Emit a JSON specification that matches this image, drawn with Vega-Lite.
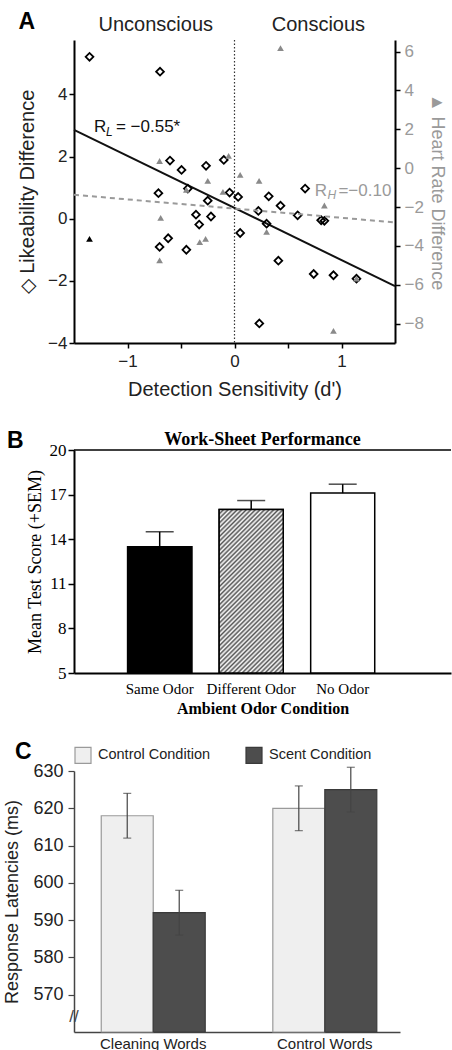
{
"$schema": "https://vega.github.io/schema/vega-lite/v6.json",
"background": "white",
"padding": {"left": 3, "top": 10, "right": 0, "bottom": 0},
"config": {"view": {"stroke": null}, "font": "Liberation Sans", "axis": {"grid": false, "titleFontWeight": "normal", "labelColor": "#222", "titleColor": "#222"}},
"datasets": {
"one": [{}],
"diamonds": [
{"d": -1.355, "L": 5.21}, {"d": -0.696, "L": 4.73}, {"d": -0.603, "L": 1.87}, {"d": -0.495, "L": 1.57},
{"d": -0.266, "L": 1.70}, {"d": -0.10, "L": 1.89}, {"d": -0.711, "L": 0.82}, {"d": -0.436, "L": 0.97},
{"d": -0.25, "L": 0.58}, {"d": -0.046, "L": 0.84}, {"d": 0.034, "L": 0.70}, {"d": 0.32, "L": 0.72},
{"d": 0.43, "L": 0.42}, {"d": 0.66, "L": 0.97}, {"d": 0.223, "L": 0.25}, {"d": 0.59, "L": 0.11},
{"d": 0.81, "L": -0.05}, {"d": 0.84, "L": -0.07}, {"d": -0.36, "L": 0.13}, {"d": -0.22, "L": 0.07},
{"d": -0.33, "L": -0.19}, {"d": -0.70, "L": -0.91}, {"d": -0.62, "L": -0.63}, {"d": -0.45, "L": -1.0},
{"d": 0.053, "L": -0.46}, {"d": 0.30, "L": -0.16}, {"d": 0.41, "L": -1.35}, {"d": 0.74, "L": -1.78},
{"d": 0.925, "L": -1.82}, {"d": 1.14, "L": -1.93}, {"d": 0.232, "L": -3.37}
],
"triangles": [
{"d": 0.43, "H": 6.18, "kind": "gray"}, {"d": -0.70, "H": 0.37, "kind": "gray"}, {"d": -0.25, "H": -0.65, "kind": "gray"},
{"d": -0.055, "H": 0.63, "kind": "gray"}, {"d": 0.053, "H": -0.34, "kind": "gray"}, {"d": 0.23, "H": -0.65, "kind": "gray"},
{"d": -0.45, "H": -1.11, "kind": "gray"}, {"d": -0.108, "H": -1.22, "kind": "gray"}, {"d": -0.69, "H": -2.56, "kind": "gray"},
{"d": 0.84, "H": -1.92, "kind": "gray"}, {"d": 1.14, "H": -5.68, "kind": "gray"}, {"d": -0.70, "H": -4.75, "kind": "gray"},
{"d": -0.325, "H": -3.81, "kind": "gray"}, {"d": -0.27, "H": -3.64, "kind": "gray"}, {"d": 0.30, "H": -3.28, "kind": "gray"},
{"d": 0.925, "H": -8.38, "kind": "gray"}, {"d": -1.355, "H": -3.64, "kind": "black"}
],
"lineL": [{"d": -1.5, "L": 2.86}, {"d": 1.5, "L": -2.17}],
"lineH": [{"d": -1.5, "H": -1.37}, {"d": 1.5, "H": -2.79}],
"odor": [
{"cond": "Same Odor", "score": 13.5, "upper": 14.5},
{"cond": "Different Odor", "score": 16.0, "upper": 16.6},
{"cond": "No Odor", "score": 17.1, "upper": 17.7}
],
"latency": [
{"words": "Cleaning Words", "condition": "Control Condition", "rt": 618, "lo": 612, "hi": 624},
{"words": "Cleaning Words", "condition": "Scent Condition", "rt": 592, "lo": 586, "hi": 598},
{"words": "Control Words", "condition": "Control Condition", "rt": 620, "lo": 614, "hi": 626},
{"words": "Control Words", "condition": "Scent Condition", "rt": 625, "lo": 619, "hi": 631}
]
},
"spacing": 25,
"resolve": {"scale": {"fill": "independent", "stroke": "independent", "color": "independent"}, "legend": {"fill": "independent", "stroke": "independent", "color": "independent"}},
"vconcat": [
{
"bounds": "flush",
"spacing": 107,
"vconcat": [
{
"width": 321, "height": 303,
"resolve": {"scale": {"y": "independent"}},
"layer": [
{
"layer": [
{"data": {"name": "one"}, "mark": {"type": "rule", "color": "#333", "strokeWidth": 1.2, "strokeDash": [1.5, 2]},
 "encoding": {"x": {"datum": 0, "type": "quantitative", "scale": {"domain": [-1.5, 1.5], "nice": false, "zero": false}}}},
{"data": {"name": "lineL"}, "mark": {"type": "line", "color": "#111", "strokeWidth": 2},
 "encoding": {
  "x": {"field": "d", "type": "quantitative", "scale": {"domain": [-1.5, 1.5], "nice": false, "zero": false}},
  "y": {"field": "L", "type": "quantitative", "scale": {"domain": [-4, 5.75], "nice": false, "zero": false}}}},
{"data": {"name": "diamonds"}, "mark": {"type": "point", "shape": "diamond", "filled": false, "stroke": "#000", "strokeWidth": 1.8, "size": 60, "opacity": 1},
 "encoding": {
  "x": {"field": "d", "type": "quantitative", "scale": {"domain": [-1.5, 1.5], "nice": false, "zero": false},
   "axis": {"values": [-1, -0.5, 0, 0.5, 1], "format": ".0f", "labelExpr": "datum.value % 1 === 0 ? datum.label : ''", "title": "Detection Sensitivity (d')", "titleFontSize": 20, "labelFontSize": 17, "domainColor": "#000", "domainWidth": 2, "tickColor": "#000", "tickWidth": 1.5, "tickSize": 5, "labelPadding": 5, "titlePadding": 10}},
  "y": {"field": "L", "type": "quantitative", "scale": {"domain": [-4, 5.75], "nice": false, "zero": false},
   "axis": {"orient": "left", "values": [-4, -2, 0, 2, 4], "title": "◇ Likeability Difference", "titleFontSize": 20, "labelFontSize": 17, "domainColor": "#000", "domainWidth": 2, "tickColor": "#000", "tickWidth": 1.5, "tickSize": 5, "labelPadding": 2, "titlePadding": 10}}}},
{"data": {"name": "one"}, "mark": {"type": "text", "text": "Unconscious", "fontSize": 20, "align": "center", "baseline": "middle", "color": "#222"},
 "encoding": {"x": {"datum": -0.736, "type": "quantitative", "scale": {"domain": [-1.5, 1.5], "nice": false, "zero": false}},
  "y": {"datum": 6.23, "type": "quantitative", "scale": {"domain": [-4, 5.75], "nice": false, "zero": false}}}},
{"data": {"name": "one"}, "mark": {"type": "text", "text": "Conscious", "fontSize": 20, "align": "center", "baseline": "middle", "color": "#222"},
 "encoding": {"x": {"datum": 0.784, "type": "quantitative", "scale": {"domain": [-1.5, 1.5], "nice": false, "zero": false}},
  "y": {"datum": 6.23, "type": "quantitative", "scale": {"domain": [-4, 5.75], "nice": false, "zero": false}}}},
{"data": {"name": "one"}, "mark": {"type": "text", "text": "A", "fontSize": 23, "fontWeight": "bold", "align": "left", "baseline": "middle", "color": "#000"},
 "encoding": {"x": {"datum": -2.018, "type": "quantitative", "scale": {"domain": [-1.5, 1.5], "nice": false, "zero": false}},
  "y": {"datum": 6.34, "type": "quantitative", "scale": {"domain": [-4, 5.75], "nice": false, "zero": false}}}},
{"data": {"name": "one"}, "mark": {"type": "text", "text": "R", "fontSize": 17, "align": "left", "baseline": "middle", "color": "#111"},
 "encoding": {"x": {"datum": -1.312, "type": "quantitative", "scale": {"domain": [-1.5, 1.5], "nice": false, "zero": false}},
  "y": {"datum": 2.94, "type": "quantitative", "scale": {"domain": [-4, 5.75], "nice": false, "zero": false}}}},
{"data": {"name": "one"}, "mark": {"type": "text", "text": "L", "fontSize": 12, "fontStyle": "italic", "align": "left", "baseline": "middle", "color": "#111"},
 "encoding": {"x": {"datum": -1.2, "type": "quantitative", "scale": {"domain": [-1.5, 1.5], "nice": false, "zero": false}},
  "y": {"datum": 2.8, "type": "quantitative", "scale": {"domain": [-4, 5.75], "nice": false, "zero": false}}}},
{"data": {"name": "one"}, "mark": {"type": "text", "text": "= −0.55*", "fontSize": 17, "align": "left", "baseline": "middle", "color": "#111"},
 "encoding": {"x": {"datum": -1.108, "type": "quantitative", "scale": {"domain": [-1.5, 1.5], "nice": false, "zero": false}},
  "y": {"datum": 2.94, "type": "quantitative", "scale": {"domain": [-4, 5.75], "nice": false, "zero": false}}}},
{"data": {"name": "one"}, "mark": {"type": "text", "text": "R", "fontSize": 17, "align": "left", "baseline": "middle", "color": "#9a9a9a"},
 "encoding": {"x": {"datum": 0.749, "type": "quantitative", "scale": {"domain": [-1.5, 1.5], "nice": false, "zero": false}},
  "y": {"datum": 0.876, "type": "quantitative", "scale": {"domain": [-4, 5.75], "nice": false, "zero": false}}}},
{"data": {"name": "one"}, "mark": {"type": "text", "text": "H", "fontSize": 12, "fontStyle": "italic", "align": "left", "baseline": "middle", "color": "#9a9a9a"},
 "encoding": {"x": {"datum": 0.87, "type": "quantitative", "scale": {"domain": [-1.5, 1.5], "nice": false, "zero": false}},
  "y": {"datum": 0.76, "type": "quantitative", "scale": {"domain": [-4, 5.75], "nice": false, "zero": false}}}},
{"data": {"name": "one"}, "mark": {"type": "text", "text": "=−0.10", "fontSize": 17, "align": "left", "baseline": "middle", "color": "#9a9a9a"},
 "encoding": {"x": {"datum": 0.971, "type": "quantitative", "scale": {"domain": [-1.5, 1.5], "nice": false, "zero": false}},
  "y": {"datum": 0.876, "type": "quantitative", "scale": {"domain": [-4, 5.75], "nice": false, "zero": false}}}}
]
},
{
"layer": [
{"data": {"name": "lineH"}, "mark": {"type": "line", "color": "#9a9a9a", "strokeWidth": 2, "strokeDash": [5, 4]},
 "encoding": {
  "x": {"field": "d", "type": "quantitative", "scale": {"domain": [-1.5, 1.5], "nice": false, "zero": false}},
  "y": {"field": "H", "type": "quantitative", "scale": {"domain": [-9, 6.6], "nice": false, "zero": false}}}},
{"data": {"name": "triangles"}, "mark": {"type": "point", "shape": "triangle-up", "filled": true, "size": 45, "opacity": 1},
 "encoding": {
  "x": {"field": "d", "type": "quantitative", "scale": {"domain": [-1.5, 1.5], "nice": false, "zero": false}},
  "y": {"field": "H", "type": "quantitative", "scale": {"domain": [-9, 6.6], "nice": false, "zero": false},
   "axis": {"orient": "right", "values": [-8, -6, -4, -2, 0, 2, 4, 6], "title": "▲ Heart Rate Difference", "titleFontSize": 18, "titleColor": "#9a9a9a", "labelColor": "#9a9a9a", "labelFontSize": 17, "domainColor": "#000", "domainWidth": 2, "tickColor": "#000", "tickWidth": 1.5, "tickSize": 5, "labelPadding": 4, "titlePadding": 4}},
  "color": {"field": "kind", "type": "nominal", "scale": {"domain": ["gray", "black"], "range": ["#8a8a8a", "#000000"]}, "legend": null}}}
]
}
]
},
{
"width": 377, "height": 223,
"title": {"text": "B", "anchor": "start", "frame": "group", "dx": -67, "fontSize": 23, "fontWeight": "bold", "font": "Liberation Sans", "color": "#000", "offset": -22},
"layer": [
{"data": {"name": "one"}, "mark": {"type": "rule", "color": "#000", "strokeWidth": 1.5},
 "encoding": {"y": {"datum": 20, "type": "quantitative", "scale": {"domain": [5, 20], "nice": false, "zero": false}}}},
{"data": {"name": "odor"}, "mark": {"type": "bar", "stroke": "#000", "strokeWidth": 1.5, "fill": "#ffffff"},
 "encoding": {
  "x": {"field": "cond", "type": "nominal", "sort": ["Same Odor", "Different Odor", "No Odor"], "scale": {"paddingInner": 0.3, "paddingOuter": 0.71, "align": 0.413},
   "axis": {"title": "Ambient Odor Condition", "titleFont": "Liberation Serif", "titleFontSize": 16, "titleFontWeight": "bold", "titleColor": "#000", "labelFont": "Liberation Serif", "labelFontSize": 15, "labelColor": "#000", "labelAngle": 0, "ticks": false, "domainColor": "#000", "domainWidth": 2, "labelPadding": 8, "titlePadding": 4}},
  "y": {"field": "score", "type": "quantitative", "scale": {"domain": [5, 20], "nice": false, "zero": false},
   "axis": {"values": [5, 8, 11, 14, 17, 20], "title": "Mean Test Score (+SEM)", "titleFont": "Liberation Serif", "titleFontSize": 18, "titleColor": "#000", "labelFont": "Liberation Serif", "labelFontSize": 17, "labelColor": "#000", "domainColor": "#000", "domainWidth": 2, "tickColor": "#000", "tickWidth": 1.5, "tickSize": 6, "labelPadding": 2, "titlePadding": 5}},
  "y2": {"datum": 5}}},
{"data": {"name": "odor"}, "transform": [{"filter": "datum.cond === 'Same Odor'"}],
 "mark": {"type": "bar", "stroke": "#000", "strokeWidth": 1.5, "fill": "#000000"},
 "encoding": {
  "x": {"field": "cond", "type": "nominal", "sort": ["Same Odor", "Different Odor", "No Odor"]},
  "y": {"field": "score", "type": "quantitative", "scale": {"domain": [5, 20], "nice": false, "zero": false}},
  "y2": {"datum": 5}}},
{"data": {"name": "odor"}, "transform": [{"filter": "datum.cond === 'Different Odor'"}],
 "mark": {"type": "bar", "stroke": "#000", "strokeWidth": 1.5,
  "fill": {"gradient": "linear", "x1": 0, "y1": 0, "x2": 0.471, "y2": 1.207, "stops": [
{"offset": 0.00, "color": "#555"}, {"offset": 0.01, "color": "#fff"}, {"offset": 0.02, "color": "#555"}, {"offset": 0.03, "color": "#fff"}, {"offset": 0.04, "color": "#555"}, {"offset": 0.05, "color": "#fff"},
{"offset": 0.06, "color": "#555"}, {"offset": 0.07, "color": "#fff"}, {"offset": 0.08, "color": "#555"}, {"offset": 0.09, "color": "#fff"}, {"offset": 0.10, "color": "#555"}, {"offset": 0.11, "color": "#fff"},
{"offset": 0.12, "color": "#555"}, {"offset": 0.13, "color": "#fff"}, {"offset": 0.14, "color": "#555"}, {"offset": 0.15, "color": "#fff"}, {"offset": 0.16, "color": "#555"}, {"offset": 0.17, "color": "#fff"},
{"offset": 0.18, "color": "#555"}, {"offset": 0.19, "color": "#fff"}, {"offset": 0.20, "color": "#555"}, {"offset": 0.21, "color": "#fff"}, {"offset": 0.22, "color": "#555"}, {"offset": 0.23, "color": "#fff"},
{"offset": 0.24, "color": "#555"}, {"offset": 0.25, "color": "#fff"}, {"offset": 0.26, "color": "#555"}, {"offset": 0.27, "color": "#fff"}, {"offset": 0.28, "color": "#555"}, {"offset": 0.29, "color": "#fff"},
{"offset": 0.30, "color": "#555"}, {"offset": 0.31, "color": "#fff"}, {"offset": 0.32, "color": "#555"}, {"offset": 0.33, "color": "#fff"}, {"offset": 0.34, "color": "#555"}, {"offset": 0.35, "color": "#fff"},
{"offset": 0.36, "color": "#555"}, {"offset": 0.37, "color": "#fff"}, {"offset": 0.38, "color": "#555"}, {"offset": 0.39, "color": "#fff"}, {"offset": 0.40, "color": "#555"}, {"offset": 0.41, "color": "#fff"},
{"offset": 0.42, "color": "#555"}, {"offset": 0.43, "color": "#fff"}, {"offset": 0.44, "color": "#555"}, {"offset": 0.45, "color": "#fff"}, {"offset": 0.46, "color": "#555"}, {"offset": 0.47, "color": "#fff"},
{"offset": 0.48, "color": "#555"}, {"offset": 0.49, "color": "#fff"}, {"offset": 0.50, "color": "#555"}, {"offset": 0.51, "color": "#fff"}, {"offset": 0.52, "color": "#555"}, {"offset": 0.53, "color": "#fff"},
{"offset": 0.54, "color": "#555"}, {"offset": 0.55, "color": "#fff"}, {"offset": 0.56, "color": "#555"}, {"offset": 0.57, "color": "#fff"}, {"offset": 0.58, "color": "#555"}, {"offset": 0.59, "color": "#fff"},
{"offset": 0.60, "color": "#555"}, {"offset": 0.61, "color": "#fff"}, {"offset": 0.62, "color": "#555"}, {"offset": 0.63, "color": "#fff"}, {"offset": 0.64, "color": "#555"}, {"offset": 0.65, "color": "#fff"},
{"offset": 0.66, "color": "#555"}, {"offset": 0.67, "color": "#fff"}, {"offset": 0.68, "color": "#555"}, {"offset": 0.69, "color": "#fff"}, {"offset": 0.70, "color": "#555"}, {"offset": 0.71, "color": "#fff"},
{"offset": 0.72, "color": "#555"}, {"offset": 0.73, "color": "#fff"}, {"offset": 0.74, "color": "#555"}, {"offset": 0.75, "color": "#fff"}, {"offset": 0.76, "color": "#555"}, {"offset": 0.77, "color": "#fff"},
{"offset": 0.78, "color": "#555"}, {"offset": 0.79, "color": "#fff"}, {"offset": 0.80, "color": "#555"}, {"offset": 0.81, "color": "#fff"}, {"offset": 0.82, "color": "#555"}, {"offset": 0.83, "color": "#fff"},
{"offset": 0.84, "color": "#555"}, {"offset": 0.85, "color": "#fff"}, {"offset": 0.86, "color": "#555"}, {"offset": 0.87, "color": "#fff"}, {"offset": 0.88, "color": "#555"}, {"offset": 0.89, "color": "#fff"},
{"offset": 0.90, "color": "#555"}, {"offset": 0.91, "color": "#fff"}, {"offset": 0.92, "color": "#555"}, {"offset": 0.93, "color": "#fff"}, {"offset": 0.94, "color": "#555"}, {"offset": 0.95, "color": "#fff"},
{"offset": 0.96, "color": "#555"}, {"offset": 0.97, "color": "#fff"}, {"offset": 0.98, "color": "#555"}, {"offset": 0.99, "color": "#fff"}, {"offset": 1.00, "color": "#555"}
]}},
 "encoding": {
  "x": {"field": "cond", "type": "nominal", "sort": ["Same Odor", "Different Odor", "No Odor"]},
  "y": {"field": "score", "type": "quantitative", "scale": {"domain": [5, 20], "nice": false, "zero": false}},
  "y2": {"datum": 5}}},
{"data": {"name": "odor"}, "mark": {"type": "rule", "color": "#000", "strokeWidth": 1.5},
 "encoding": {
  "x": {"field": "cond", "type": "nominal", "sort": ["Same Odor", "Different Odor", "No Odor"]},
  "y": {"field": "score", "type": "quantitative", "scale": {"domain": [5, 20], "nice": false, "zero": false}},
  "y2": {"field": "upper"}}},
{"data": {"name": "odor"}, "mark": {"type": "tick", "color": "#000", "thickness": 1.5, "size": 28},
 "encoding": {
  "x": {"field": "cond", "type": "nominal", "sort": ["Same Odor", "Different Odor", "No Odor"]},
  "y": {"field": "upper", "type": "quantitative", "scale": {"domain": [5, 20], "nice": false, "zero": false}}}},
{"data": {"name": "one"}, "mark": {"type": "text", "text": "Work-Sheet Performance", "font": "Liberation Serif", "fontSize": 18, "fontWeight": "bold", "baseline": "middle", "align": "center", "dy": -10, "color": "#000"},
 "encoding": {"y": {"datum": 20, "type": "quantitative", "scale": {"domain": [5, 20], "nice": false, "zero": false}}}}
]
}
]
},
{
"width": 326, "height": 261,
"title": {"text": "C", "anchor": "start", "frame": "group", "dx": -59, "fontSize": 23, "fontWeight": "bold", "font": "Liberation Sans", "color": "#000", "offset": -18},
"resolve": {"scale": {"x": "independent"}},
"layer": [
{
"data": {"name": "latency"},
"layer": [
{"mark": {"type": "bar", "strokeWidth": 1.2},
 "encoding": {
  "x": {"field": "words", "type": "nominal", "sort": ["Cleaning Words", "Control Words"], "scale": {"paddingInner": 0.394, "paddingOuter": 0.147, "align": 0.54},
   "axis": {"title": null, "labelFontSize": 15, "labelColor": "#222", "labelAngle": 0, "ticks": false, "domainColor": "#444", "domainWidth": 1.5, "labelPadding": 4}},
  "xOffset": {"field": "condition", "type": "nominal", "sort": ["Control Condition", "Scent Condition"]},
  "y": {"field": "rt", "type": "quantitative", "scale": {"domain": [560, 630], "nice": false, "zero": false},
   "axis": {"values": [570, 580, 590, 600, 610, 620, 630], "labelOverlap": false, "title": "Response Latencies (ms)", "titleFontSize": 18, "labelFontSize": 18, "labelPadding": 5, "tickSize": 6, "tickColor": "#444", "tickWidth": 1.2, "domainColor": "#444", "domainWidth": 1.5, "titlePadding": 11}},
  "y2": {"datum": 560},
  "fill": {"field": "condition", "type": "nominal", "scale": {"domain": ["Control Condition", "Scent Condition"], "range": ["#efefef", "#4d4d4d"]},
   "legend": {"orient": "top", "direction": "horizontal", "title": null, "symbolType": "square", "symbolSize": 256, "labelFontSize": 14.5, "labelColor": "#222", "columnPadding": 32, "offset": 5, "labelOffset": 6, "symbolStrokeWidth": 1.2}},
  "stroke": {"field": "condition", "type": "nominal", "scale": {"domain": ["Control Condition", "Scent Condition"], "range": ["#9a9a9a", "#3a3a3a"]}}}},
{"mark": {"type": "rule", "color": "#444", "strokeWidth": 1.2},
 "encoding": {
  "x": {"field": "words", "type": "nominal", "sort": ["Cleaning Words", "Control Words"]},
  "xOffset": {"field": "condition", "type": "nominal", "sort": ["Control Condition", "Scent Condition"]},
  "y": {"field": "lo", "type": "quantitative", "scale": {"domain": [560, 630], "nice": false, "zero": false}},
  "y2": {"field": "hi"}}},
{"mark": {"type": "tick", "color": "#444", "thickness": 1.2, "size": 8},
 "encoding": {
  "x": {"field": "words", "type": "nominal", "sort": ["Cleaning Words", "Control Words"]},
  "xOffset": {"field": "condition", "type": "nominal", "sort": ["Control Condition", "Scent Condition"]},
  "y": {"field": "hi", "type": "quantitative", "scale": {"domain": [560, 630], "nice": false, "zero": false}}}},
{"mark": {"type": "tick", "color": "#444", "thickness": 1.2, "size": 8},
 "encoding": {
  "x": {"field": "words", "type": "nominal", "sort": ["Cleaning Words", "Control Words"]},
  "xOffset": {"field": "condition", "type": "nominal", "sort": ["Control Condition", "Scent Condition"]},
  "y": {"field": "lo", "type": "quantitative", "scale": {"domain": [560, 630], "nice": false, "zero": false}}}}
]
},
{"data": {"name": "one"}, "mark": {"type": "text", "text": "//", "fontSize": 17, "color": "#444", "align": "center", "baseline": "middle"},
 "encoding": {"x": {"datum": 0, "type": "quantitative", "scale": {"domain": [0, 1]}, "axis": null},
  "y": {"datum": 564, "type": "quantitative", "scale": {"domain": [560, 630], "nice": false, "zero": false}}}}
]
}
]
}
